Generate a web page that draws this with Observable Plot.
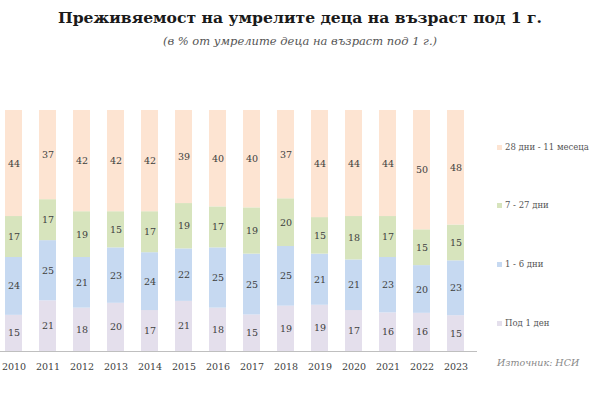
<!DOCTYPE html>
<html>
<head>
<meta charset="utf-8">
<script src="https://cdn.jsdelivr.net/npm/d3@7"></script>
<script src="https://cdn.jsdelivr.net/npm/@observablehq/plot@0.6"></script>
<style>
  body { margin: 0; background: #fff; }
  #wrap { position: relative; width: 600px; height: 400px; font-family: "DejaVu Serif", serif; overflow: hidden; }
  #title { position: absolute; top: 8px; left: 0; width: 600px; text-align: center; font-weight: bold; font-size: 15.6px; color: #1a1a1a; }
  #subtitle { position: absolute; top: 34px; left: 0; width: 600px; text-align: center; font-style: italic; font-size: 11.5px; color: #555; }
  #chart { position: absolute; top: 60px; left: 0; }
  .leg { position: absolute; left: 497px; font-size: 8.5px; color: #555; white-space: nowrap; display: flex; align-items: center; }
  .leg span.sw { display: inline-block; width: 5px; height: 5px; margin-right: 3px; }
  #source { position: absolute; left: 497px; top: 357px; font-size: 9.5px; font-style: italic; color: #888; }
</style>
</head>
<body>
<div id="wrap">
  <div id="title">Преживяемост на умрелите деца на възраст под 1 г.</div>
  <div id="subtitle">(в % от умрелите деца на възраст под 1 г.)</div>
  <div id="chart"></div>
  <div id="legend"></div>
  <div id="source">Източник: НСИ</div>
</div>
<script>
const years = [2010, 2011, 2012, 2013, 2014, 2015, 2016, 2017, 2018, 2019, 2020, 2021, 2022, 2023];
const categories = ["Под 1 ден", "1 - 6 дни", "7 - 27 дни", "28 дни - 11 месеца"];
const under1Day = [15, 21, 18, 20, 17, 21, 18, 15, 19, 19, 17, 16, 16, 15];
const days1to6 = [24, 25, 21, 23, 24, 22, 25, 25, 25, 21, 21, 23, 20, 23];
const days7to27 = [17, 17, 19, 15, 17, 19, 17, 19, 20, 15, 18, 17, 15, 15];
const days28to11m = [44, 37, 42, 42, 42, 39, 40, 40, 37, 44, 44, 44, 50, 48];
const colors = ["#e4dfec", "#c6d9f1", "#d7e4bd", "#fde4d2"];

const series = [under1Day, days1to6, days7to27, days28to11m];
const data = [];
years.forEach((yr, i) => {
  categories.forEach((c, j) => data.push({year: String(yr), cat: c, value: series[j][i]}));
});

const stackOpts = {x: "year", y: "value", z: "cat", offset: "normalize", order: categories};

const chart = Plot.plot({
  width: 600,
  height: 340,
  marginTop: 50,
  marginBottom: 49,
  marginLeft: 0,
  marginRight: 123,
  style: {fontFamily: "DejaVu Serif, serif", background: "transparent"},
  x: {domain: years.map(String), range: [5, 469.5], paddingInner: 0.5, paddingOuter: 0, align: 0, label: null},
  y: {axis: null, domain: [0, 1]},
  color: {domain: categories, range: colors},
  marks: [
    Plot.barY(data, Plot.stackY({...stackOpts, fill: "cat"})),
    Plot.text(data, Plot.stackY({...stackOpts, text: "value", fill: "#404040", fontSize: 9.5})),
    Plot.ruleY([0], {stroke: "#bfbfbf", strokeWidth: 1.2}),
    Plot.axisX({tickSize: 0, tickPadding: 12, fontSize: 9.5, fill: "#404040", label: null})
  ]
});
document.getElementById("chart").appendChild(chart);

// legend (top to bottom, reverse stacking order)
const legTops = [142, 200, 259, 318];
const legend = document.getElementById("legend");
categories.slice().reverse().forEach((c, k) => {
  const idx = categories.indexOf(c);
  const d = document.createElement("div");
  d.className = "leg";
  d.style.top = legTops[k] + "px";
  d.innerHTML = `<span class="sw" style="background:${colors[idx]}"></span>${c}`;
  legend.appendChild(d);
});
</script>
</body>
</html>
